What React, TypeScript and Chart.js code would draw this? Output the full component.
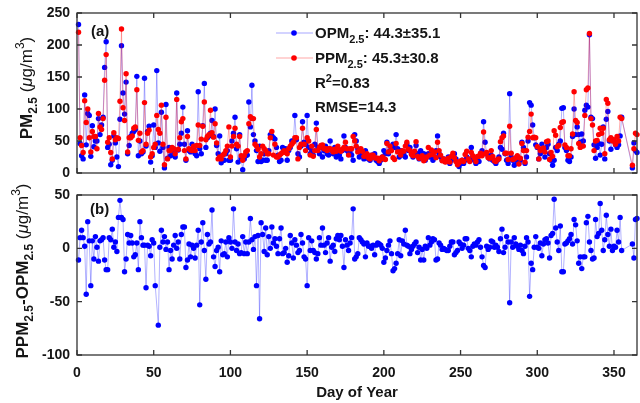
import React, { useEffect, useRef } from 'react';
import { Chart, registerables } from 'chart.js';
Chart.register(...registerables);

const N = null;

// Day of year (categories)
const DAYS: number[] = Array.from({ length: 365 }, (_, i) => i + 1);

// Panel (a): observed PM2.5 (blue)
const OPM: (number | null)[] = [
  232,46,27,22,122,44,93,90,26,74,
  41,50,50,85,60,75,87,165,205,40,
  45,13,20,58,47,25,10,84,199,125,
  92,142,30,43,57,62,65,68,151,27,
  50,30,33,148,42,65,73,17,27,75,
  40,160,47,34,95,40,8,107,23,40,
  27,37,33,25,125,36,45,62,103,45,
  20,66,35,33,45,40,30,27,127,38,
  30,74,140,40,55,58,62,82,57,100,
  43,30,58,16,20,20,30,35,20,20,
  50,62,87,38,17,60,23,5,22,27,
  28,111,72,137,60,50,35,18,42,18,
  20,30,20,20,35,60,58,55,53,40,
  28,18,20,40,35,38,20,35,40,50,
  50,90,52,30,25,42,80,48,
  45,90,40,30,35,28,45,78,40,30,
  40,25,35,42,30,28,50,35,30,40,
  25,30,28,22,35,58,40,35,30,33,
  28,20,60,50,38,25,30,28,22,35,
  25,22,20,28,25,30,20,18,15,20,
  25,35,30,48,30,35,40,45,40,60,
  38,25,35,28,30,25,45,35,40,30,
  25,30,43,30,22,35,28,30,20,25,
  30,25,30,20,25,35,58,30,25,20,
  22,18,20,25,15,20,25,30,22,15,
  10,15,20,15,20,25,22,20,40,25,
  20,15,20,18,30,35,80,48,30,25,
  22,28,20,18,15,20,25,40,37,62,
  30,20,15,124,25,20,12,20,25,15,
  20,48,40,15,25,50,110,106,75,55,
  44,40,22,30,45,35,25,40,45,30,
  20,12,20,40,35,45,50,101,102,40,
  35,20,18,25,57,100,60,72,60,48,
  61,50,98,106,103,216,87,85,44,23,
  40,46,28,45,72,22,84,96,50,37,
  52,50,44,40,44,58,87,
  N,N,N,N,N,N,
  8,47,35,32,
];

// Panel (a): predicted PM2.5 (red)
const PPM: (number | null)[] = [
  220,55,43,32,113,79,100,55,33,65,
  57,57,38,93,72,68,85,145,185,48,
  55,32,22,63,52,55,54,112,225,102,
  82,155,33,55,55,58,70,72,130,51,
  62,33,35,110,45,62,67,25,30,40,
  45,90,68,62,106,45,13,87,22,35,
  35,40,38,30,115,37,55,80,85,35,
  22,57,38,36,35,42,35,43,75,43,
  53,73,111,52,57,60,98,63,56,77,
  47,22,25,22,28,30,35,42,72,25,
  42,57,70,45,42,57,27,20,27,33,
  35,77,88,85,85,45,42,37,25,30,
  42,38,35,30,30,55,65,28,45,25,
  25,28,30,32,35,32,30,38,42,45,
  48,55,55,22,40,45,70,45,
  35,55,50,28,42,26,35,68,35,40,
  43,44,38,38,35,38,38,36,33,37,
  34,42,36,34,37,40,48,38,28,38,
  38,57,50,42,33,35,38,34,26,27,
  30,24,22,28,28,24,23,23,19,23,
  25,22,21,46,33,42,35,24,21,46,
  33,33,28,35,34,42,48,37,35,29,
  27,34,49,26,23,24,27,19,22,25,
  40,28,36,29,33,24,48,35,28,19,
  22,17,18,23,17,26,31,24,18,13,
  16,19,20,18,29,34,22,18,32,27,
  24,18,26,26,31,27,64,30,32,24,
  23,35,26,19,18,21,22,49,55,58,
  31,31,21,73,31,21,22,24,27,14,
  23,46,35,17,35,56,65,92,55,56,
  55,41,22,35,38,39,33,49,50,21,
  32,26,66,59,41,43,71,79,80,44,
  40,27,27,38,61,127,82,79,46,40,
  42,42,90,130,133,218,85,75,35,50,
  51,60,70,62,70,30,115,109,52,55,
  50,52,45,57,50,87,85,
  N,N,N,N,N,N,
  12,38,62,60,
];

// Panel (b): PPM2.5 - OPM2.5
const DIFF: (number | null)[] = [
  -11,10,17,10,2,-43,25,7,-35,7,
  -10,11,1,-12,7,8,10,-11,-20,-20,
  10,8,18,1,6,-3,29,45,29,27,
  -22,-10,13,5,12,5,-8,-6,5,-20,
  25,10,3,3,-37,3,2,-7,8,5,
  -35,N,-72,1,17,6,11,-1,6,-20,
  -2,-10,3,12,0,6,-10,13,20,20,
  -18,-11,4,-8,3,0,-9,3,17,-53,
  6,24,-2,-29,13,4,6,36,-8,-17,
  -2,1,-22,7,-6,-5,6,-8,10,6,
  0,37,6,-2,4,-5,-4,11,-5,6,
  -5,6,28,8,-1,11,-35,12,-66,24,
  13,-3,19,-6,11,0,20,5,9,2,
  -5,9,19,-5,-4,0,-13,-7,12,5,
  -9,8,3,-4,-2,13,5,-8,-10,-35,
  10,-2,7,-2,-4,-10,-5,10,3,19,
  3,-4,5,10,-12,1,3,-3,9,12,
  8,12,2,-18,8,3,-2,5,10,37,
  -10,-8,-5,10,8,6,4,-8,5,2,
  2,0,3,-6,3,5,4,3,0,-13,
  -9,-2,3,7,-5,-21,-19,-14,-5,8,
  -7,7,4,17,3,2,-5,-1,2,4,
  6,-4,1,-11,-1,-11,2,0,10,3,
  6,9,8,-11,-10,5,3,-1,0,-1,
  -2,-2,2,6,6,-6,-4,-2,6,4,
  0,3,9,9,0,-2,-8,2,4,3,
  6,8,1,-8,-16,-18,2,-1,1,7,
  6,1,3,1,-3,9,18,-4,1,11,
  6,-51,6,1,10,4,2,-1,3,-2,
  -5,2,10,6,-45,-14,-20,1,11,1,
  0,5,-7,4,8,9,5,-9,12,14,
  46,19,6,-2,21,-22,-22,4,5,7,
  9,13,4,27,22,7,-14,-8,-19,-8,
  -8,24,30,6,-2,-10,-9,27,11,14,
  42,17,-2,8,31,13,2,18,-2,2,
  1,17,6,29,-2,
  N,N,N,N,N,N,
  4,-9,27,28,
];

const X_TICKS = [0, 50, 100, 150, 200, 250, 300, 350];
const YA_TICKS = [0, 50, 100, 150, 200, 250];
const YB_TICKS = [-100, -50, 0, 50];
const STATS = { opm: '44.3\u00B135.1', ppm: '45.3\u00B130.8', r2: '0.83', rmse: '14.3' };

const FONT = '"Liberation Sans", Arial, Helvetica, sans-serif';
const INK = '#151515';
const BLUE = '#0000ff';
const RED = '#ff0000';

type Seg = { t: string; size: number; bold?: boolean; italic?: boolean; dy?: number };
const fontOf = (s: Seg) => `${s.italic ? 'italic ' : ''}${s.bold ? 'bold ' : ''}${s.size}px ${FONT}`;
function richWidth(ctx: CanvasRenderingContext2D, segs: Seg[]) {
  let w = 0;
  for (const s of segs) { ctx.font = fontOf(s); w += ctx.measureText(s.t).width; }
  return w;
}
function drawRich(ctx: CanvasRenderingContext2D, segs: Seg[], x: number, y: number) {
  let cx = x;
  ctx.textAlign = 'left';
  ctx.textBaseline = 'alphabetic';
  for (const s of segs) {
    ctx.font = fontOf(s);
    ctx.fillText(s.t, cx, y + (s.dy || 0));
    cx += ctx.measureText(s.t).width;
  }
}
function drawRotated(ctx: CanvasRenderingContext2D, segs: Seg[], bx: number, cy: number) {
  ctx.save();
  ctx.translate(bx, cy);
  ctx.rotate(-Math.PI / 2);
  const w = richWidth(ctx, segs);
  drawRich(ctx, segs, -w / 2, 0);
  ctx.restore();
}

function drawFrame(chart: any, yTicks: number[], xLabels: boolean) {
  const { ctx, chartArea } = chart;
  const { left, right, top, bottom } = chartArea;
  const x = chart.scales.x, y = chart.scales.y;
  ctx.save();
  ctx.strokeStyle = '#333';
  ctx.lineWidth = 1.3;
  ctx.strokeRect(left, top, right - left, bottom - top);
  const TL = 5;
  ctx.beginPath();
  for (const v of X_TICKS) {
    const px = x.getPixelForValue(v);
    ctx.moveTo(px, bottom); ctx.lineTo(px, bottom - TL);
    ctx.moveTo(px, top); ctx.lineTo(px, top + TL);
  }
  for (const v of yTicks) {
    const py = y.getPixelForValue(v);
    ctx.moveTo(left, py); ctx.lineTo(left + TL, py);
    ctx.moveTo(right, py); ctx.lineTo(right - TL, py);
  }
  ctx.stroke();
  ctx.fillStyle = INK;
  ctx.font = `bold 14px ${FONT}`;
  ctx.textAlign = 'right';
  ctx.textBaseline = 'middle';
  for (const v of yTicks) ctx.fillText(String(v), left - 7, y.getPixelForValue(v));
  if (xLabels) {
    ctx.textAlign = 'center';
    ctx.textBaseline = 'alphabetic';
    for (const v of X_TICKS) ctx.fillText(String(v), x.getPixelForValue(v), bottom + 22);
  }
  ctx.restore();
}

const decorA = {
  id: 'decorA',
  afterDraw(chart: any) {
    const ctx: CanvasRenderingContext2D = chart.ctx;
    drawFrame(chart, YA_TICKS, false);
    ctx.save();
    ctx.fillStyle = INK;
    ctx.font = `bold 15px ${FONT}`;
    ctx.textAlign = 'left';
    ctx.textBaseline = 'alphabetic';
    ctx.fillText('(a)', 91, 36);
    drawRotated(ctx, [
      { t: 'PM', size: 17, bold: true },
      { t: '2.5', size: 12, bold: true, dy: 5 },
      { t: ' (', size: 17 },
      { t: '\u03BC', size: 17, italic: true },
      { t: 'g/m', size: 17 },
      { t: '3', size: 12, dy: -8 },
      { t: ')', size: 17 },
    ], 32, 88);
    // legend
    const rows: [string, string, number][] = [[BLUE, 'rgba(0,0,255,0.35)', 33], [RED, 'rgba(255,0,0,0.35)', 58]];
    for (const [c, lc, yy] of rows) {
      ctx.strokeStyle = lc; ctx.lineWidth = 1;
      ctx.beginPath(); ctx.moveTo(276, yy); ctx.lineTo(313, yy); ctx.stroke();
      ctx.fillStyle = c;
      ctx.beginPath(); ctx.arc(294, yy, 2.8, 0, Math.PI * 2); ctx.fill();
    }
    ctx.fillStyle = INK;
    drawRich(ctx, [
      { t: 'OPM', size: 15, bold: true }, { t: '2.5', size: 11, bold: true, dy: 5 },
      { t: ': ' + STATS.opm, size: 15, bold: true },
    ], 315, 38);
    drawRich(ctx, [
      { t: 'PPM', size: 15, bold: true }, { t: '2.5', size: 11, bold: true, dy: 5 },
      { t: ': ' + STATS.ppm, size: 15, bold: true },
    ], 315, 63);
    drawRich(ctx, [
      { t: 'R', size: 15, bold: true }, { t: '2', size: 11, bold: true, dy: -6 },
      { t: '=' + STATS.r2, size: 15, bold: true },
    ], 315, 88);
    drawRich(ctx, [{ t: 'RMSE=' + STATS.rmse, size: 15, bold: true }], 315, 112);
    ctx.restore();
  },
};

const decorB = {
  id: 'decorB',
  afterDraw(chart: any) {
    const ctx: CanvasRenderingContext2D = chart.ctx;
    drawFrame(chart, YB_TICKS, true);
    ctx.save();
    ctx.fillStyle = INK;
    ctx.font = `bold 15px ${FONT}`;
    ctx.textAlign = 'left';
    ctx.textBaseline = 'alphabetic';
    ctx.fillText('(b)', 90, 214);
    ctx.textAlign = 'center';
    ctx.fillText('Day of Year', (chart.chartArea.left + chart.chartArea.right) / 2, 397);
    drawRotated(ctx, [
      { t: 'PPM', size: 17, bold: true },
      { t: '2.5', size: 12, bold: true, dy: 5 },
      { t: '-OPM', size: 17, bold: true },
      { t: '2.5', size: 12, bold: true, dy: 5 },
      { t: ' (', size: 17 },
      { t: '\u03BC', size: 17, italic: true },
      { t: 'g/m', size: 17 },
      { t: '3', size: 12, dy: -8 },
      { t: ')', size: 17 },
    ], 28, 271);
    ctx.restore();
  },
};

const series = (vals: (number | null)[]) => DAYS.map((d, i) => ({ x: d, y: vals[i] }));

const baseOptions = (ymin: number, ymax: number, padTop: number, padBottom: number) => ({
  responsive: false,
  maintainAspectRatio: false,
  animation: false as const,
  layout: { padding: { left: 77, right: 3, top: padTop, bottom: padBottom } },
  scales: {
    x: { type: 'linear' as const, min: 0, max: 365, display: false },
    y: { type: 'linear' as const, min: ymin, max: ymax, display: false },
  },
  plugins: { legend: { display: false }, tooltip: { enabled: false } },
});

const ds = (label: string, vals: (number | null)[], color: string, lineColor: string, order: number) => ({
  label,
  data: series(vals),
  borderColor: lineColor,
  borderWidth: 1,
  pointRadius: 2.7,
  pointBackgroundColor: color,
  pointBorderWidth: 0,
  pointHoverRadius: 2.7,
  spanGaps: true,
  tension: 0,
  clip: false as const,
  order,
});

export default function App() {
  const refA = useRef<HTMLCanvasElement>(null);
  const refB = useRef<HTMLCanvasElement>(null);
  useEffect(() => {
    const a = new Chart(refA.current as HTMLCanvasElement, {
      type: 'line',
      data: {
        datasets: [
          ds('OPM2.5', OPM, BLUE, 'rgba(0,0,255,0.3)', 1),
          ds('PPM2.5', PPM, RED, 'rgba(255,0,0,0.3)', 0),
        ],
      },
      options: baseOptions(0, 250, 13, 403 - 173) as any,
      plugins: [decorA],
    });
    const b = new Chart(refB.current as HTMLCanvasElement, {
      type: 'line',
      data: { datasets: [ds('PPM2.5-OPM2.5', DIFF, BLUE, 'rgba(0,0,255,0.3)', 0)] },
      options: baseOptions(-100, 50, 195, 403 - 355) as any,
      plugins: [decorB],
    });
    return () => { a.destroy(); b.destroy(); };
  }, []);
  return (
    <div style={{ position: 'fixed', left: 0, top: 0, width: 640, height: 403, background: '#fff' }}>
      <canvas ref={refA} width={640} height={403} style={{ position: 'absolute', left: 0, top: 0, width: 640, height: 403 }} />
      <canvas ref={refB} width={640} height={403} style={{ position: 'absolute', left: 0, top: 0, width: 640, height: 403 }} />
    </div>
  );
}
